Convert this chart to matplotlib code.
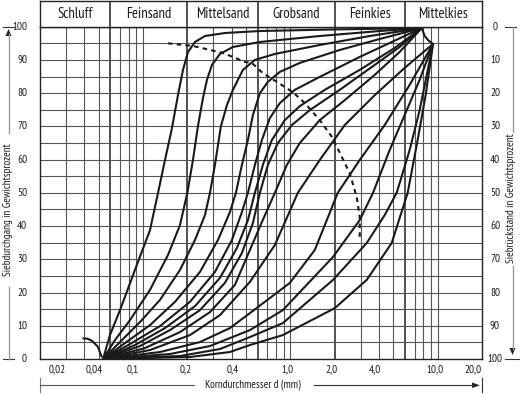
import numpy as np
import matplotlib
matplotlib.use("Agg")
import matplotlib.pyplot as plt
import matplotlib.transforms as mtrans
from matplotlib.lines import Line2D
from matplotlib.patches import Polygon

# ---------------- data ----------------
classes = ["Schluff", "Feinsand", "Mittelsand", "Grobsand", "Feinkies", "Mittelkies"]
class_bounds = [0.02, 0.06, 0.2, 0.6, 2.0, 6.0, 20.0]
xtick_values = [0.02, 0.04, 0.1, 0.2, 0.4, 1.0, 2.0, 4.0, 10.0, 20.0]
xtick_labels = ["0,02", "0,04", "0,1", "0,2", "0,4", "1,0", "2,0", "4,0", "10,0", "20,0"]
grid_x = [0.03, 0.04, 0.05, 0.07, 0.08, 0.09, 0.1, 0.3, 0.4, 0.5, 0.7, 0.8, 0.9,
          1.0, 3.0, 4.0, 5.0, 7.0, 8.0, 9.0, 10.0]
grid_y = list(range(5, 100, 5))
ytick_values = list(range(0, 101, 10))

# grading curves: grain size d (mm) and passing percentage (%)
c1_d = [0.0536, 0.0597, 0.0698, 0.0882, 0.1116, 0.1265, 0.1411, 0.1573, 0.1728, 0.1869,
        0.2021, 0.2253, 0.2634, 0.3599, 0.6215, 2.166, 7.8]
c1_p = [0, 7.2, 14.7, 26.8, 38.8, 50, 59.9, 69.5, 79.4, 87.0, 92.4, 95.4, 97.2, 98.1, 98.7, 99.2, 99.6]
c2_d = [0.0536, 0.0646, 0.0816, 0.1116, 0.1478, 0.1783, 0.200, 0.2184, 0.2361, 0.2553,
        0.2718, 0.2938, 0.3329, 0.4078, 0.6215, 1.585, 4.043, 7.8]
c2_p = [0, 5.7, 11.7, 20.8, 31.3, 40.3, 50, 59.9, 70.1, 78.5, 84.0, 88.5, 91.8, 93.9, 95.4, 97.2, 98.7, 99.6]
c3_d = [0.0536, 0.0698, 0.0954, 0.1305, 0.1783, 0.2253, 0.2634, 0.2848, 0.3079, 0.3381,
        0.3713, 0.4078, 0.4767, 0.5748, 0.7855, 1.585, 3.459, 7.8]
c3_p = [0, 5.1, 11.1, 17.8, 26.8, 35.8, 43.3, 50, 58.4, 70.1, 76.4, 81.0, 87.0, 90.0, 91.8, 94.5, 97.2, 99.6]
c4_d = [0.0536, 0.0755, 0.1116, 0.1649, 0.2436, 0.3227, 0.3891, 0.4273, 0.4692, 0.5154,
        0.5572, 0.6215, 0.7043, 0.849, 1.160, 2.166, 4.043, 7.8]
c4_p = [0, 4.8, 10.2, 17.2, 26.2, 35.8, 44.2, 50, 58.4, 65.9, 73.4, 80.0, 83.4, 86.4, 89.1, 93.0, 96.3, 99.6]
c5_d = [0.0536, 0.0816, 0.1305, 0.2084, 0.3079, 0.4014, 0.4692, 0.5154, 0.5748, 0.6412,
        0.7265, 0.849, 1.073, 1.585, 2.959, 7.8]
c5_p = [0, 4.5, 9.9, 17.2, 26.2, 35.8, 44.2, 50, 58.4, 65.9, 72.5, 77.0, 81.0, 84.9, 90.9, 99.6]
c6_d = [0.0536, 0.0882, 0.1411, 0.2253, 0.3329, 0.434, 0.5154, 0.5748, 0.6513, 0.7495,
        0.918, 1.160, 1.714, 2.959, 5.109, 7.8]
c6_p = [0, 4.2, 9.3, 15.9, 24.4, 33.4, 41.8, 50, 58.4, 65.9, 71.9, 76.1, 81.0, 87.0, 93.6, 99.6]
c7_d = [0.0536, 0.0954, 0.1525, 0.2436, 0.3599, 0.4692, 0.5572, 0.6215, 0.7043, 0.8232,
        1.0245, 1.356, 2.166, 3.740, 5.524, 7.8]
c7_p = [0, 3.9, 8.7, 14.7, 22.9, 31.9, 40.9, 50, 58.4, 65.0, 70.4, 74.9, 81.0, 88.5, 93.9, 99.6]
c8_d = [0.0536, 0.1032, 0.1783, 0.2848, 0.4207, 0.5317, 0.6412, 0.7855, 0.947, 1.160,
        1.585, 2.342, 3.740, 5.524, 7.8]
c8_p = [0, 3.3, 8.1, 14.1, 22.3, 32.8, 41.2, 50, 58.4, 65.0, 71.9, 77.9, 85.5, 92.4, 99.6]
c9_d = [0.0536, 0.1116, 0.2084, 0.3329, 0.5317, 0.7855, 1.1245, 1.585, 2.342, 3.740, 5.972, 9.30]
c9_p = [0, 2.7, 7.2, 13.2, 23.2, 34.3, 50, 59.9, 70.4, 79.4, 87.6, 94.8]
c10_d = [0.0536, 0.1305, 0.2436, 0.3891, 0.5317, 0.993, 1.466, 2.099, 2.959, 4.371, 6.457, 9.30]
c10_p = [0, 2.1, 5.1, 9.3, 13.8, 22.9, 32.8, 50, 59.9, 70.4, 82.5, 94.8]
c11_d = [0.0536, 0.1525, 0.2848, 0.5317, 0.8897, 1.948, 2.959, 3.641, 4.726, 5.972, 7.547, 9.30]
c11_p = [0, 1.5, 3.9, 8.7, 14.7, 30.7, 41.8, 50, 62.9, 73.4, 84.0, 94.8]
c12_d = [0.0536, 0.1783, 0.3329, 0.5317, 0.8897, 1.948, 3.300, 4.371, 5.271, 6.457, 7.547, 9.30]
c12_p = [0, 0.9, 3.0, 6.6, 10.8, 23.8, 34.9, 43.3, 50, 62.9, 74.9, 94.8]
c13_d = [0.0536, 0.2084, 0.3891, 0.5317, 0.8897, 2.003, 3.300, 4.876, 6.259, 7.316, 8.289, 9.30]
c13_p = [0, 0.6, 2.1, 4.2, 7.2, 15.3, 23.8, 34.9, 50, 65.9, 79.4, 94.8]
hook_d = [9.30, 8.685, 8.16, 7.8]
hook_p = [94.8, 95.8, 97.2, 99.6]
arc_d = [0.0393, 0.0421, 0.0453, 0.0494, 0.0524]
arc_p = [6.2, 6.1, 5.4, 3.7, 0.7]
# dashed line
dash_d = [0.1478, 0.2184, 0.3489, 0.4918, 0.5486, 0.6513, 0.8104, 1.0407, 1.254, 1.585,
          1.918, 2.236, 2.532, 2.824, 2.959, 2.959]
dash_p = [95.0, 94.2, 92.1, 89.4, 89.1, 86.0, 83.4, 80.3, 77.0, 71.9, 66.8, 60.8, 55.9, 48.7, 42.7, 35.8]

curves = [(c1_d, c1_p), (c2_d, c2_p), (c3_d, c3_p), (c4_d, c4_p), (c5_d, c5_p),
          (c6_d, c6_p), (c7_d, c7_p), (c8_d, c8_p), (c9_d, c9_p), (c10_d, c10_p),
          (c11_d, c11_p), (c12_d, c12_p), (c13_d, c13_p), (hook_d, hook_p), (arc_d, arc_p)]

# ---------------- figure ----------------
FONT = ["PT Sans Narrow", "DejaVu Sans"]
plt.rcParams["font.family"] = FONT
W, H = 520, 394
fig = plt.figure(figsize=(W / 100, H / 100), dpi=100)

def fx(px):
    return px / W

def fy(py):
    return 1 - py / H

L, R, T, B = 40, 482, 26.7, 359
ax = fig.add_axes([fx(L), fy(B), fx(R) - fx(L), fy(T) - fy(B)])
ax.set_xscale("log")
ax.set_xlim(0.02, 20)
ax.set_ylim(0, 100)
ax.set_xticks([])
ax.set_yticks([])
ax.minorticks_off()
for s in ax.spines.values():
    s.set_color("#222222")
    s.set_linewidth(1.0)

gcol = "#555555"
for g in grid_x:
    ax.axvline(g, color=gcol, lw=0.8, zorder=1)
for b in class_bounds[1:-1]:
    ax.axvline(b, color="#333333", lw=1.2, zorder=1)
for g in grid_y:
    ax.axhline(g, color=gcol, lw=0.8, zorder=1)

for d, p in curves:
    ax.plot(d, p, color="#1a1a1a", lw=1.5, zorder=3, solid_capstyle="round",
            solid_joinstyle="round")
ax.plot(dash_d, dash_p, color="#1a1a1a", lw=1.5, ls=(0, (2.2, 2.0)), zorder=3)

# header
hx = fig.add_axes([fx(L), fy(T), fx(R) - fx(L), fy(1) - fy(T)])
hx.set_xscale("log")
hx.set_xlim(0.02, 20)
hx.set_ylim(0, 1)
hx.set_xticks([])
hx.set_yticks([])
hx.minorticks_off()
for s in hx.spines.values():
    s.set_color("#222222")
    s.set_linewidth(1.0)
for b in class_bounds[1:-1]:
    hx.axvline(b, color="#333333", lw=1.2)
for i, name in enumerate(classes):
    xc = np.sqrt(class_bounds[i] * class_bounds[i + 1])
    hx.text(xc, 0.5, name, ha="center", va="center", fontsize=10.5, color="#1a1a1a")

# x tick labels
xoff = [17, 10, -10, -2, 1, -3, -3, -4, -3, -9]
for v, lab, o in zip(xtick_values, xtick_labels, xoff):
    tr = ax.get_xaxis_transform() + mtrans.ScaledTranslation(o / 100, 0, fig.dpi_scale_trans)
    ax.text(v, -0.031, lab, transform=tr, ha="center", va="center", fontsize=8, color="#1a1a1a")

# y tick labels (left: passing, right: retained)
for v in ytick_values:
    ax.text((27 - L) / (R - L), v, str(v), transform=ax.get_yaxis_transform(),
            ha="right", va="center", fontsize=8, color="#1a1a1a")
    ax.text((495 - L) / (R - L), v, str(100 - v), transform=ax.get_yaxis_transform(),
            ha="center", va="center", fontsize=8, color="#1a1a1a")

# decorations in figure pixel coords
def fline(xs, ys, **kw):
    fig.add_artist(Line2D([fx(x) for x in xs], [fy(y) for y in ys], transform=fig.transFigure, **kw))

def ftri(pts, **kw):
    fig.add_artist(Polygon([(fx(x), fy(y)) for x, y in pts], closed=True, transform=fig.transFigure, **kw))

lg = "#9a9a9a"
# left axis
fline([3, 14], [T, T], color="#333333", lw=0.8)
fline([3, 14], [B, B], color="#333333", lw=0.8)
fline([8.5, 8.5], [B, 287], color=lg, lw=1.0)
fline([8.5, 8.5], [133, 34], color=lg, lw=1.0)
ftri([(5.5, 36), (11.5, 36), (8.5, 29)], color="#222222", lw=0)
fig.text(fx(8.5), fy(210), "Siebdurchgang in Gewichtsprozent", rotation=90,
         ha="center", va="center", fontsize=8, color="#1a1a1a")
# right axis
fline([505, 516], [T, T], color="#333333", lw=0.8)
fline([505, 520], [B, B], color="#333333", lw=0.8)
fline([512.5, 512.5], [T, 132], color=lg, lw=1.0)
fline([512.5, 512.5], [266, 349], color=lg, lw=1.0)
ftri([(509.5, 348), (515.5, 348), (512.5, 355)], color="#222222", lw=0)
fig.text(fx(511), fy(198), "Siebrückstand in Gewichtsprozent", rotation=90,
         ha="center", va="center", fontsize=8, color="#1a1a1a")
# bottom axis
fline([40, 40], [378, 392], color="#777777", lw=0.8)
fline([482, 482], [378, 392], color="#333333", lw=0.8)
fline([40, 194], [385, 385], color="#555555", lw=0.8)
fline([314, 474], [385, 385], color="#333333", lw=0.8)
ftri([(472, 382.5), (472, 388), (480, 385.3)], color="#222222", lw=0)
fig.text(fx(253), fy(385), "Korndurchmesser d (mm)", ha="center", va="center",
         fontsize=8, color="#1a1a1a")

fig.savefig("out.png", dpi=100)
